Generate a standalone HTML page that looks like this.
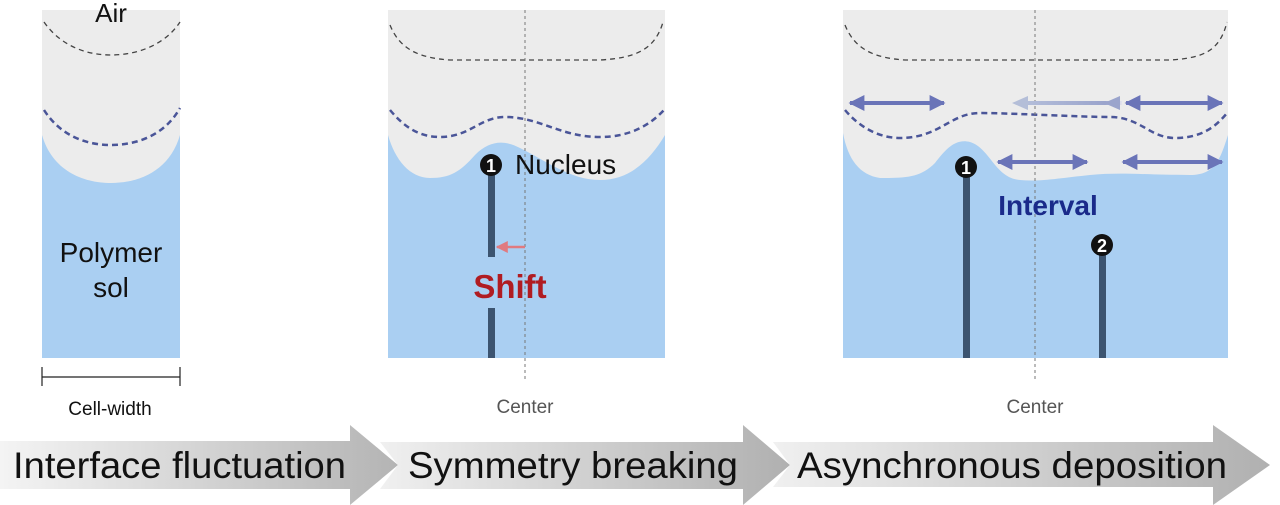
<!DOCTYPE html>
<html><head><meta charset="utf-8"><style>
html,body{margin:0;padding:0;background:#fff;}
svg{display:block;font-family:"Liberation Sans",Arial,sans-serif;}
</style></head><body>
<svg width="1280" height="505" viewBox="0 0 1280 505">
<defs>
<linearGradient id="ga" x1="0" x2="1" y1="0" y2="0">
<stop offset="0" stop-color="#f4f4f4"/><stop offset="1" stop-color="#b4b4b4"/>
</linearGradient>
<linearGradient id="gb" x1="0" x2="1" y1="0" y2="0">
<stop offset="0" stop-color="#f0f0f0"/><stop offset="1" stop-color="#b0b0b0"/>
</linearGradient>
<linearGradient id="fade" gradientUnits="userSpaceOnUse" x1="1012" y1="0" x2="1122" y2="0"><stop offset="0" stop-color="#b8c2dc"/><stop offset="0.85" stop-color="#9aa4cc"/><stop offset="1" stop-color="#e4e4ee"/></linearGradient>
<marker id="ah" viewBox="0 0 10 10" refX="9" refY="5" markerWidth="16" markerHeight="16" markerUnits="userSpaceOnUse" orient="auto-start-reverse"><path d="M0,0L10,5L0,10z" fill="#6a74b8"/></marker>
<marker id="ahf" viewBox="0 0 10 10" refX="9" refY="5" markerWidth="16" markerHeight="16" markerUnits="userSpaceOnUse" orient="auto-start-reverse"><path d="M0,0L10,5L0,10z" fill="#b4bed8"/></marker>
<marker id="ar" viewBox="0 0 10 10" refX="9" refY="5" markerWidth="12" markerHeight="12" markerUnits="userSpaceOnUse" orient="auto"><path d="M0,0L10,5L0,10z" fill="#e07a80"/></marker>
</defs>

<!-- Panel 1 -->
<rect x="42" y="10" width="138" height="348" fill="#aacff2"/>
<path d="M42,10H180V135C170,170 140,183 111,183C82,183 52,170 42,135Z" fill="#ececec"/>
<path d="M44,22C60,45 85,55 111,55C137,55 165,45 180,22" fill="none" stroke="#444" stroke-width="1.3" stroke-dasharray="5,4"/>
<path d="M44,110C60,135 85,145 111,145C137,145 165,135 180,108" fill="none" stroke="#4a5598" stroke-width="2.5" stroke-dasharray="6,4"/>
<text x="111" y="22" font-size="26" text-anchor="middle" fill="#111">Air</text>
<text x="111" y="262" font-size="28" text-anchor="middle" fill="#111">Polymer</text>
<text x="111" y="297" font-size="28" text-anchor="middle" fill="#111">sol</text>
<path d="M42,367V386M180,367V386M42,377H180" stroke="#222" stroke-width="1.2" fill="none"/>
<text x="110" y="415" font-size="19" text-anchor="middle" fill="#111">Cell-width</text>

<!-- Panel 2 -->
<rect x="388" y="10" width="277" height="348" fill="#aacff2"/>
<path d="M388,10H665V135C650,160 630,180 600,180C570,180 545,160 520,148C505,140 490,140 475,155C460,172 450,178 430,178C410,178 395,160 388,135Z" fill="#ececec"/>
<path d="M390,25C400,50 420,58 450,60H600C635,58 655,50 663,22" fill="none" stroke="#444" stroke-width="1.3" stroke-dasharray="5,4"/>
<path d="M390,110C405,128 420,137 440,137C470,137 480,117 505,117C540,117 560,137 600,137C630,137 650,125 664,110" fill="none" stroke="#4a5598" stroke-width="2.5" stroke-dasharray="6,4"/>
<line x1="525" y1="10" x2="525" y2="382" stroke="#777" stroke-width="1" stroke-dasharray="3,3"/>
<rect x="488" y="170" width="7" height="87" fill="#3c5470"/>
<rect x="488" y="308" width="7" height="50" fill="#3c5470"/>
<circle cx="491" cy="165" r="11" fill="#111"/>
<text x="491" y="172" font-size="18" font-weight="bold" text-anchor="middle" fill="#fff">1</text>
<text x="515" y="174" font-size="28" fill="#111">Nucleus</text>
<line x1="525" y1="247" x2="497" y2="247" stroke="#e07a80" stroke-width="2.5" marker-end="url(#ar)"/>
<text x="510" y="298" font-size="33" font-weight="bold" text-anchor="middle" fill="#b01c22">Shift</text>
<text x="525" y="413" font-size="19" text-anchor="middle" fill="#555">Center</text>

<!-- Panel 3 -->
<rect x="843" y="10" width="385" height="348" fill="#aacff2"/>
<path d="M843,10H1228V135C1220,160 1215,175 1190,175C1150,175 1120,172 1090,175C1060,178 1040,182 1020,180C995,178 990,148 970,142C955,138 945,150 935,163C920,178 905,178 880,178C860,175 848,160 843,133Z" fill="#ececec"/>
<path d="M845,25C855,50 875,58 905,60H1170C1205,58 1220,50 1227,22" fill="none" stroke="#444" stroke-width="1.3" stroke-dasharray="5,4"/>
<path d="M845,110C860,128 880,138 900,138C940,138 950,113 980,113C1010,113 1080,117 1110,117C1140,117 1150,138 1175,138C1200,138 1215,128 1227,113" fill="none" stroke="#4a5598" stroke-width="2.5" stroke-dasharray="6,4"/>
<line x1="1035" y1="10" x2="1035" y2="382" stroke="#777" stroke-width="1" stroke-dasharray="3,3"/>
<line x1="850" y1="103" x2="944" y2="103" stroke="#6a74b8" stroke-width="4" marker-start="url(#ah)" marker-end="url(#ah)"/>
<rect x="1018" y="101" width="104" height="4" fill="url(#fade)"/>
<path d="M1012,103L1028,96L1028,110z" fill="#b4bed8"/>
<path d="M1120,96L1104,103L1120,110z" fill="#9aa4cc"/>
<line x1="1126" y1="103" x2="1222" y2="103" stroke="#6a74b8" stroke-width="4" marker-start="url(#ah)" marker-end="url(#ah)"/>
<line x1="998" y1="162" x2="1087" y2="162" stroke="#6a74b8" stroke-width="4" marker-start="url(#ah)" marker-end="url(#ah)"/>
<line x1="1123" y1="162" x2="1222" y2="162" stroke="#6a74b8" stroke-width="4" marker-start="url(#ah)" marker-end="url(#ah)"/>
<rect x="963" y="172" width="7" height="186" fill="#3c5470"/>
<circle cx="966" cy="167" r="11" fill="#111"/>
<text x="966" y="174" font-size="18" font-weight="bold" text-anchor="middle" fill="#fff">1</text>
<text x="1048" y="215" font-size="28" font-weight="bold" text-anchor="middle" fill="#1a2a8a">Interval</text>
<rect x="1099" y="252" width="7" height="106" fill="#3c5470"/>
<circle cx="1102" cy="245" r="11" fill="#111"/>
<text x="1102" y="252" font-size="18" font-weight="bold" text-anchor="middle" fill="#fff">2</text>
<text x="1035" y="413" font-size="19" text-anchor="middle" fill="#555">Center</text>

<!-- Bottom arrows -->
<path d="M0,441H350V425L398,465L350,505V489H0Z" fill="url(#ga)"/>
<path d="M380,442H743V425L790,465L743,505V489H380L398,465Z" fill="url(#gb)"/>
<path d="M773,442H1213V425L1270,465L1213,505V487H773L790,465Z" fill="url(#gb)"/>
<text x="13" y="478" font-size="37" textLength="333" lengthAdjust="spacingAndGlyphs" fill="#111">Interface fluctuation</text>
<text x="408" y="478" font-size="37" textLength="330" lengthAdjust="spacingAndGlyphs" fill="#111">Symmetry breaking</text>
<text x="797" y="478" font-size="37" textLength="430" lengthAdjust="spacingAndGlyphs" fill="#111">Asynchronous deposition</text>
</svg>
</body></html>
